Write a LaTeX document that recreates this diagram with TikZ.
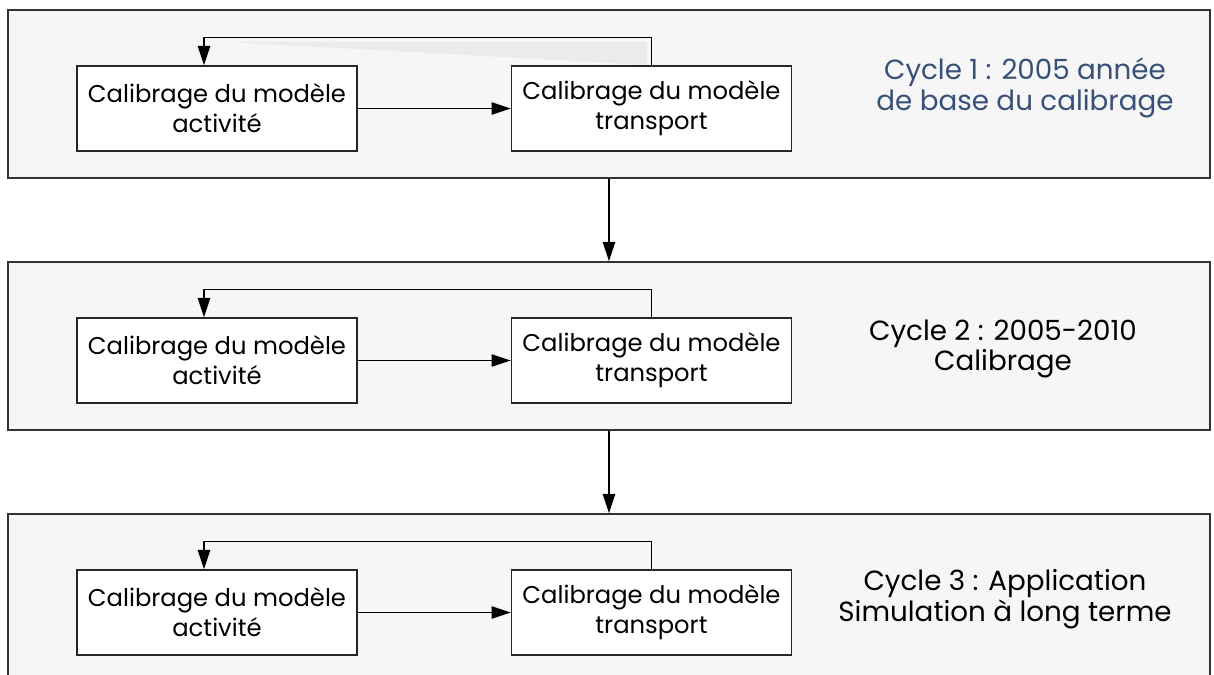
\documentclass[tikz,border=0pt]{standalone}
\usepackage{fontspec}
\setmainfont{Poppins}
\usetikzlibrary{arrows.meta,positioning}
\definecolor{cyclblue}{RGB}{55,80,120}

\begin{document}
\begin{tikzpicture}[x=0.02cm, y=-0.02cm, >={Triangle[length=11pt,width=7pt]}, line width=0.8pt,
    font=\fontsize{13.8}{17}\selectfont,
    panel/.style={draw=black!80, fill=gray!7, minimum width=24.04cm, minimum height=3.36cm},
    modbox/.style={draw=black!85, fill=white, minimum width=5.6cm, minimum height=1.7cm, align=center, inner sep=2pt},
    cyctext/.style={align=center, font=\fontsize{15.8}{17.6}\selectfont}]
    \useasboundingbox (0,0) rectangle (1214,675);
    % cycles
    \node[panel] (p1) at (609,94) {};
    \node[panel] (p2) at (609,346) {};
    \node[panel] (p3) at (609,598) {};
    \fill[gray!16] (230,42) -- (647,42) -- (647,65) -- cycle;
    % cycle 1
    \node[modbox] (act1) at (217,108.5) {Calibrage du modèle\\activité};
    \node[modbox] (trans1) at (651.5,108.5) {Calibrage du modèle\\transport};
    \node[cyctext, text=cyclblue] (lbl1) at (1025,88) {Cycle 1 : 2005 année\\de base du calibrage};
    \draw[->] (act1.east) -- (trans1.west);
    \draw[->] (trans1.north) -- ++(0,-28) -| ([xshift=-0.26cm]act1.north);
    % cycle 2
    \node[modbox] (act2) at (217,360.5) {Calibrage du modèle\\activité};
    \node[modbox] (trans2) at (651.5,360.5) {Calibrage du modèle\\transport};
    \node[cyctext] (lbl2) at (1003,349) {Cycle 2 : 2005-2010\\Calibrage};
    \draw[->] (act2.east) -- (trans2.west);
    \draw[->] (trans2.north) -- ++(0,-28) -| ([xshift=-0.26cm]act2.north);
    % cycle 3
    \node[modbox] (act3) at (217,612.5) {Calibrage du modèle\\activité};
    \node[modbox] (trans3) at (651.5,612.5) {Calibrage du modèle\\transport};
    \node[cyctext] (lbl3) at (1005,599) {Cycle 3 : Application\\Simulation à long terme};
    \draw[->] (act3.east) -- (trans3.west);
    \draw[->] (trans3.north) -- ++(0,-28) -| ([xshift=-0.26cm]act3.north);
    % between cycles
    \draw[->] (p1.south) -- (p2.north);
    \draw[->] (p2.south) -- (p3.north);
\end{tikzpicture}
\end{document}
